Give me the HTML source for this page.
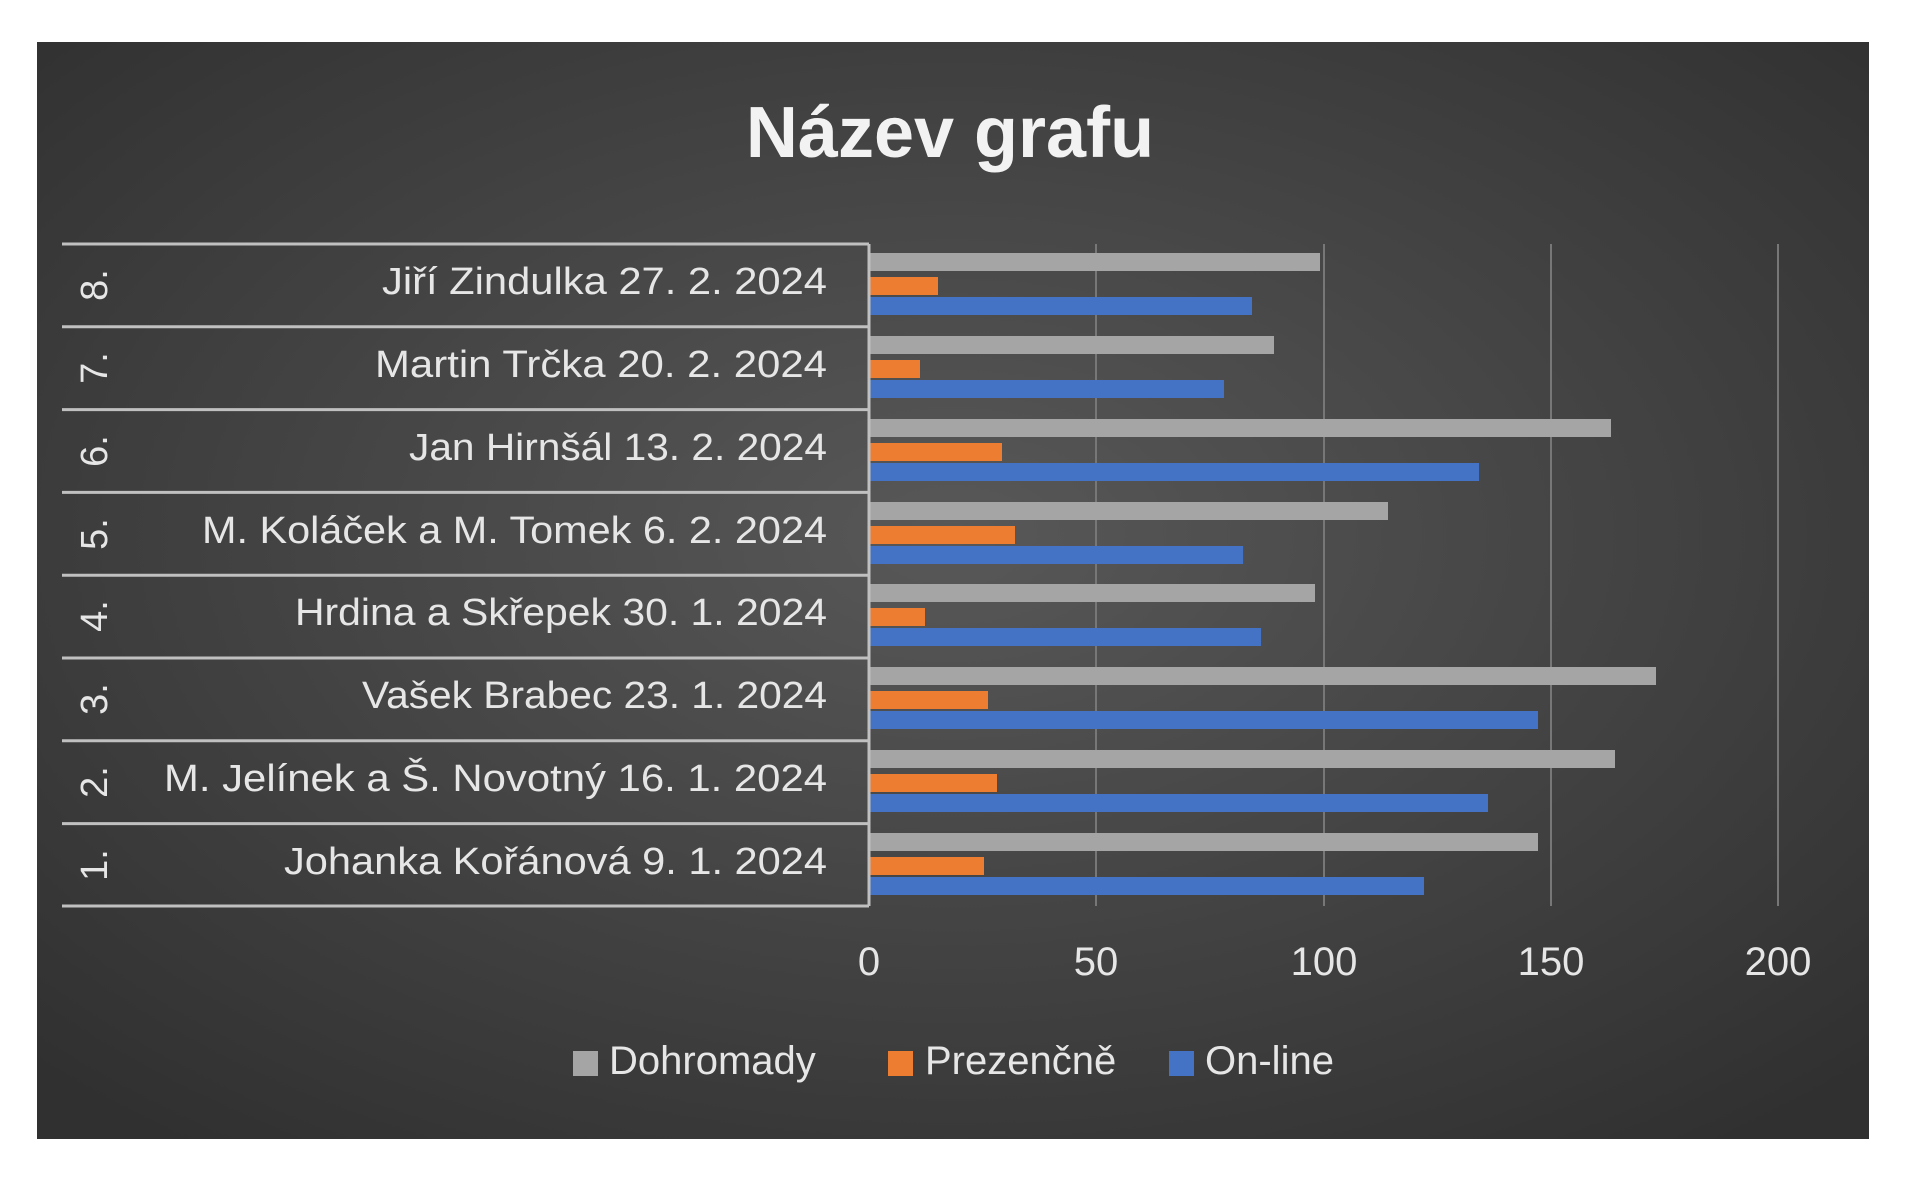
<!DOCTYPE html>
<html><head><meta charset="utf-8"><style>
html,body{margin:0;padding:0;background:#fff;}
svg{display:block;}
text{font-family:"Liberation Sans",sans-serif;}
</style></head><body>
<svg width="1920" height="1191" viewBox="0 0 1920 1191" xmlns="http://www.w3.org/2000/svg">
<defs>
<radialGradient id="bg" cx="50%" cy="45%" r="70%">
<stop offset="0" stop-color="#585858"/>
<stop offset="1" stop-color="#303030"/>
</radialGradient>
</defs>
<rect x="0" y="0" width="1920" height="1191" fill="#fff"/>
<rect x="37" y="42" width="1832" height="1097" fill="url(#bg)"/>
<text x="950" y="157" text-anchor="middle" font-size="72" font-weight="bold" fill="#f2f2f2">Název grafu</text>
<g stroke="#777" stroke-width="2">
<line x1="1096" y1="244" x2="1096" y2="906"/>
<line x1="1324" y1="244" x2="1324" y2="906"/>
<line x1="1551" y1="244" x2="1551" y2="906"/>
<line x1="1778" y1="244" x2="1778" y2="906"/>
</g>
<g>
<rect x="870" y="253" width="450" height="18" fill="#a5a5a5"/>
<rect x="870" y="277" width="68" height="18" fill="#ed7d31"/>
<rect x="870" y="297" width="382" height="18" fill="#4472c4"/>

<rect x="870" y="336" width="404" height="18" fill="#a5a5a5"/>
<rect x="870" y="360" width="50" height="18" fill="#ed7d31"/>
<rect x="870" y="380" width="354" height="18" fill="#4472c4"/>

<rect x="870" y="419" width="741" height="18" fill="#a5a5a5"/>
<rect x="870" y="443" width="132" height="18" fill="#ed7d31"/>
<rect x="870" y="463" width="609" height="18" fill="#4472c4"/>

<rect x="870" y="502" width="518" height="18" fill="#a5a5a5"/>
<rect x="870" y="526" width="145" height="18" fill="#ed7d31"/>
<rect x="870" y="546" width="373" height="18" fill="#4472c4"/>

<rect x="870" y="584" width="445" height="18" fill="#a5a5a5"/>
<rect x="870" y="608" width="55" height="18" fill="#ed7d31"/>
<rect x="870" y="628" width="391" height="18" fill="#4472c4"/>

<rect x="870" y="667" width="786" height="18" fill="#a5a5a5"/>
<rect x="870" y="691" width="118" height="18" fill="#ed7d31"/>
<rect x="870" y="711" width="668" height="18" fill="#4472c4"/>

<rect x="870" y="750" width="745" height="18" fill="#a5a5a5"/>
<rect x="870" y="774" width="127" height="18" fill="#ed7d31"/>
<rect x="870" y="794" width="618" height="18" fill="#4472c4"/>

<rect x="870" y="833" width="668" height="18" fill="#a5a5a5"/>
<rect x="870" y="857" width="114" height="18" fill="#ed7d31"/>
<rect x="870" y="877" width="554" height="18" fill="#4472c4"/>
</g>
<g stroke="#c0c0c0" stroke-width="3">
<line x1="62" y1="244" x2="869" y2="244"/>
<line x1="62" y1="326.8" x2="869" y2="326.8"/>
<line x1="62" y1="409.6" x2="869" y2="409.6"/>
<line x1="62" y1="492.4" x2="869" y2="492.4"/>
<line x1="62" y1="575.2" x2="869" y2="575.2"/>
<line x1="62" y1="658" x2="869" y2="658"/>
<line x1="62" y1="740.8" x2="869" y2="740.8"/>
<line x1="62" y1="823.6" x2="869" y2="823.6"/>
<line x1="62" y1="906" x2="869" y2="906"/>
<line x1="869" y1="244" x2="869" y2="906"/>
</g>
<g font-size="38" fill="#e6e6e6" text-anchor="end">
<text x="827" y="294" textLength="445" lengthAdjust="spacingAndGlyphs">Jiří Zindulka  27. 2. 2024</text>
<text x="827" y="377" textLength="452" lengthAdjust="spacingAndGlyphs">Martin Trčka 20. 2. 2024</text>
<text x="827" y="460" textLength="418" lengthAdjust="spacingAndGlyphs">Jan Hirnšál 13. 2. 2024</text>
<text x="827" y="543" textLength="625" lengthAdjust="spacingAndGlyphs">M. Koláček a M. Tomek 6. 2. 2024</text>
<text x="827" y="625" textLength="532" lengthAdjust="spacingAndGlyphs">Hrdina a Skřepek 30. 1. 2024</text>
<text x="827" y="708" textLength="465" lengthAdjust="spacingAndGlyphs">Vašek Brabec 23. 1. 2024</text>
<text x="827" y="791" textLength="663" lengthAdjust="spacingAndGlyphs">M. Jelínek a Š. Novotný 16. 1. 2024</text>
<text x="827" y="874" textLength="543" lengthAdjust="spacingAndGlyphs">Johanka Kořánová  9. 1. 2024</text>
</g>
<g font-size="38" fill="#e6e6e6" text-anchor="middle">
<text transform="translate(107,285) rotate(-90)">8.</text>
<text transform="translate(107,368) rotate(-90)">7.</text>
<text transform="translate(107,451) rotate(-90)">6.</text>
<text transform="translate(107,534) rotate(-90)">5.</text>
<text transform="translate(107,616) rotate(-90)">4.</text>
<text transform="translate(107,699) rotate(-90)">3.</text>
<text transform="translate(107,782) rotate(-90)">2.</text>
<text transform="translate(107,865) rotate(-90)">1.</text>
</g>
<g font-size="40" fill="#e6e6e6" text-anchor="middle">
<text x="869" y="975">0</text>
<text x="1096" y="975">50</text>
<text x="1324" y="975">100</text>
<text x="1551" y="975">150</text>
<text x="1778" y="975">200</text>
</g>
<g font-size="40" fill="#e6e6e6">
<rect x="573" y="1051" width="25" height="25" fill="#a5a5a5"/>
<text x="609" y="1074">Dohromady</text>
<rect x="888" y="1051" width="25" height="25" fill="#ed7d31"/>
<text x="925" y="1074">Prezenčně</text>
<rect x="1169" y="1051" width="25" height="25" fill="#4472c4"/>
<text x="1205" y="1074">On-line</text>
</g>
</svg>
</body></html>
